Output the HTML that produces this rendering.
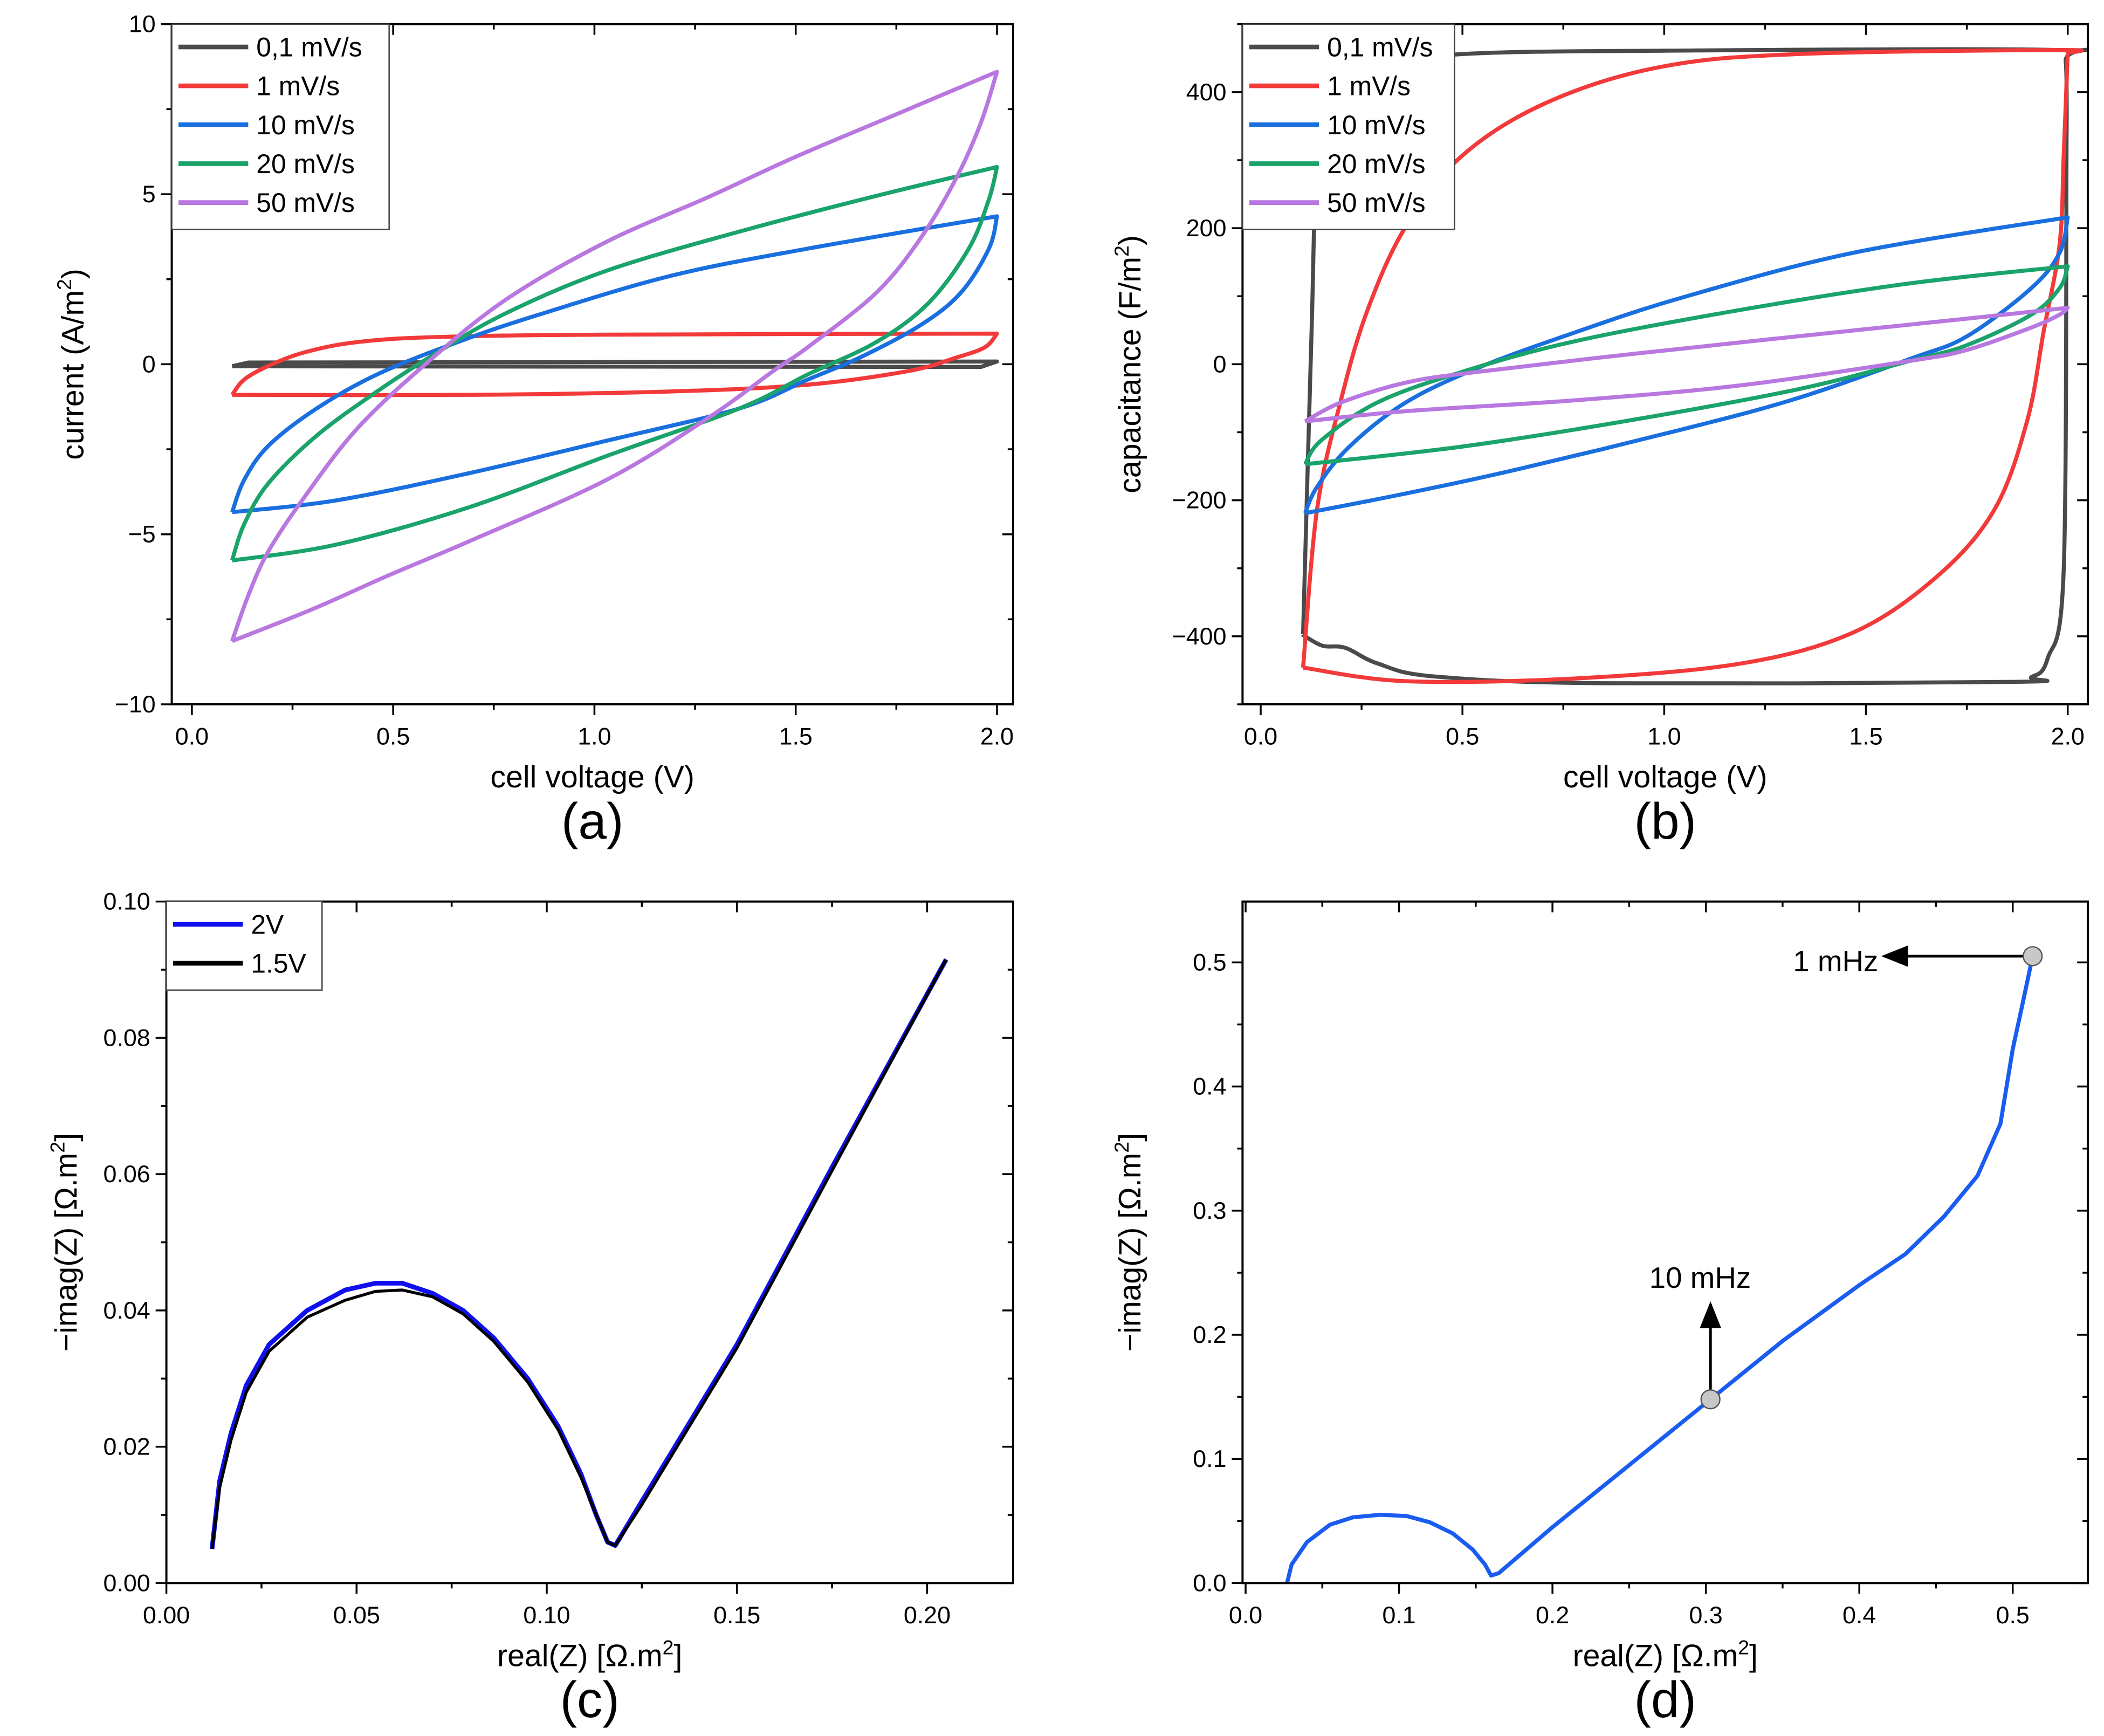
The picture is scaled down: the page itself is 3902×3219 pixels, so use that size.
<!DOCTYPE html>
<html><head><meta charset="utf-8"><style>
html,body{margin:0;padding:0;background:#fff;}
svg{display:block;font-family:"Liberation Sans",sans-serif;}
</style></head><body>
<svg id="fig" width="3902" height="3219" viewBox="0 0 1568 1294" preserveAspectRatio="none" xmlns="http://www.w3.org/2000/svg"></svg>
<script>
// ---- data ----
const cvSeriesNames = ["0,1 mV/s","1 mV/s","10 mV/s","20 mV/s","50 mV/s"];
const cvColors = ["#4a4a4a","#f23a3a","#1a6fdf","#1aa36b","#b878e0"];
const cvA_01 = [[0.1,-0.06],[0.14,0.05],[2.0,0.08],[1.96,-0.08],[0.1,-0.06]];
const cvA_1 = [[0.1,-0.9],[0.13,-0.45],[0.19,-0.05],[0.28,0.35],[0.41,0.65],[0.61,0.8],[1.03,0.87],[2.0,0.9],[1.97,0.5],[1.9,0.2],[1.78,-0.2],[1.53,-0.6],[1.19,-0.8],[0.69,-0.9],[0.1,-0.9]];
const cvA_10 = [[0.1,-4.35],[0.13,-3.4],[0.19,-2.4],[0.31,-1.3],[0.46,-0.3],[0.66,0.65],[0.86,1.45],[1.19,2.6],[1.53,3.4],[2.0,4.35],[1.98,3.4],[1.91,2.1],[1.81,1.15],[1.66,0.2],[1.53,-0.45],[1.36,-1.3],[1.03,-2.25],[0.69,-3.2],[0.36,-4.0],[0.1,-4.35]];
const cvA_20 = [[0.1,-5.77],[0.13,-4.7],[0.19,-3.5],[0.31,-2.1],[0.46,-0.8],[0.61,0.35],[0.78,1.5],[1.03,2.75],[1.36,3.9],[1.7,4.95],[2.0,5.8],[1.98,4.85],[1.93,3.4],[1.83,1.8],[1.7,0.65],[1.53,-0.3],[1.36,-1.3],[1.03,-2.7],[0.69,-4.2],[0.36,-5.3],[0.1,-5.77]];
const cvA_50 = [[0.1,-8.14],[0.14,-6.8],[0.19,-5.5],[0.28,-3.9],[0.41,-1.9],[0.58,0],[0.78,1.9],[1.03,3.6],[1.28,4.9],[1.5,6.1],[1.75,7.35],[2.0,8.6],[1.96,7.1],[1.9,5.5],[1.81,3.7],[1.7,2.1],[1.53,0.5],[1.45,-0.15],[1.28,-1.6],[1.03,-3.4],[0.69,-5.2],[0.49,-6.2],[0.3,-7.2],[0.1,-8.14]];
const capB_01 = [[0.105,-397],[0.126,47],[0.14,294],[0.18,388],[0.29,437],[0.5,456],[1.0,461],[1.97,462],[1.995,445],[1.997,307],[1.99,-303],[1.95,-433],[1.91,-460],[1.86,-467],[0.85,-469],[0.43,-459],[0.29,-440],[0.21,-417],[0.154,-414],[0.11,-400],[0.105,-397]];
const capB_1 = [[0.105,-446],[0.14,-212],[0.2,-50],[0.265,80],[0.36,203],[0.5,307],[0.71,385],[0.99,437],[1.33,456],[1.98,462],[2.0,458],[1.99,307],[1.98,177],[1.94,47],[1.9,-82],[1.82,-212],[1.68,-310],[1.47,-394],[1.19,-440],[0.78,-462],[0.36,-466],[0.105,-446]];
const capB_10 = [[0.11,-219],[0.14,-180],[0.22,-121],[0.36,-56],[0.54,-5],[0.78,47],[1.05,99],[1.47,164],[2.0,216],[1.98,164],[1.91,112],[1.75,41],[1.61,8],[1.33,-50],[1.05,-95],[0.64,-154],[0.36,-190],[0.11,-219]];
const capB_20 = [[0.11,-147],[0.15,-112],[0.29,-56],[0.5,-11],[0.78,34],[1.19,80],[1.61,119],[2.0,144],[1.98,112],[1.91,73],[1.75,28],[1.61,5],[1.33,-37],[0.92,-82],[0.5,-121],[0.11,-147]];
const capB_50 = [[0.11,-84],[0.2,-56],[0.36,-27],[0.54,-11],[0.92,15],[1.33,41],[1.75,67],[2.0,83],[1.98,73],[1.91,54],[1.75,21],[1.61,5],[1.19,-31],[0.78,-53],[0.36,-69],[0.11,-84]];
const eisC_2V = [[0.012,0.005],[0.014,0.015],[0.017,0.022],[0.021,0.029],[0.027,0.035],[0.037,0.040],[0.047,0.043],[0.055,0.044],[0.062,0.044],[0.07,0.0425],[0.078,0.04],[0.086,0.036],[0.095,0.03],[0.103,0.023],[0.109,0.016],[0.113,0.01],[0.116,0.006],[0.118,0.0055],[0.125,0.012],[0.15,0.035],[0.175,0.061],[0.205,0.0915]];
const eisC_15V = [[0.012,0.005],[0.014,0.014],[0.017,0.021],[0.021,0.028],[0.027,0.034],[0.037,0.039],[0.047,0.0415],[0.055,0.0428],[0.062,0.043],[0.07,0.042],[0.078,0.0395],[0.086,0.0355],[0.095,0.0295],[0.103,0.0225],[0.109,0.0155],[0.113,0.01],[0.116,0.006],[0.118,0.0055],[0.125,0.0115],[0.15,0.0345],[0.175,0.0605],[0.205,0.0915]];
const eisD = [[0.027,0],[0.03,0.015],[0.04,0.033],[0.055,0.047],[0.07,0.053],[0.088,0.055],[0.105,0.054],[0.12,0.049],[0.135,0.04],[0.148,0.027],[0.156,0.015],[0.16,0.006],[0.165,0.008],[0.2,0.045],[0.25,0.095],[0.3,0.145],[0.35,0.195],[0.4,0.24],[0.43,0.265],[0.455,0.295],[0.477,0.328],[0.492,0.37],[0.5,0.43],[0.507,0.47],[0.513,0.505]];
const eisDMarkers = [[0.303,0.148],[0.513,0.505]];
const ticksAx = ["0.0","0.5","1.0","1.5","2.0"];
const ticksAy = ["−10","−5","0","5","10"];
const ticksBy = ["−400","−200","0","200","400"];
const ticksCx = ["0.00","0.05","0.10","0.15","0.20"];
const ticksCy = ["0.00","0.02","0.04","0.06","0.08","0.10"];
const ticksDx = ["0.0","0.1","0.2","0.3","0.4","0.5"];
const ticksDy = ["0.0","0.1","0.2","0.3","0.4","0.5"];

const svg = document.getElementById('fig');
const NS = "http://www.w3.org/2000/svg";
function mk(tag, attrs, parent){const e=document.createElementNS(NS,tag);for(const k in attrs)e.setAttribute(k,attrs[k]);(parent||svg).appendChild(e);return e;}
function num(s){return parseFloat(s.replace('−','-'));}
function crPath(P){
  let d='M'+P[0][0].toFixed(2)+' '+P[0][1].toFixed(2);
  for(let i=0;i<P.length-1;i++){
    const p0=P[i-1]||P[i], p1=P[i], p2=P[i+1], p3=P[i+2]||P[i+1];
    const c1=[p1[0]+(p2[0]-p0[0])/6, p1[1]+(p2[1]-p0[1])/6];
    const c2=[p2[0]-(p3[0]-p1[0])/6, p2[1]-(p3[1]-p1[1])/6];
    d+=` C${c1[0].toFixed(2)} ${c1[1].toFixed(2)} ${c2[0].toFixed(2)} ${c2[1].toFixed(2)} ${p2[0].toFixed(2)} ${p2[1].toFixed(2)}`;
  }
  return d;
}
const defs = mk('defs',{});
let clipN=0;

function panel(p){
  const g = mk('g',{});
  
  
  const sx = v => p.L + (v - p.x0)/(p.x1 - p.x0)*(p.R - p.L);
  const sy = v => p.B - (v - p.y0)/(p.y1 - p.y0)*(p.B - p.T);
  const cid = 'clip'+(clipN++);
  const cp = mk('clipPath',{id:cid},defs);
  mk('rect',{x:p.L,y:p.T,width:p.R-p.L,height:p.B-p.T},cp);
  const tg = mk('g',{stroke:'#000','stroke-width':1.4},g);
  for(let v=p.x0m; v<=p.x1+1e-9; v+=p.xminor){
    const x=sx(v); if(x<p.L-0.5||x>p.R+0.5) continue;
    const major = Math.abs(((v-p.xmajor0)/p.xmajor) - Math.round((v-p.xmajor0)/p.xmajor))<1e-6;
    const len = major?8:4;
    mk('line',{x1:x,y1:p.B,x2:x,y2:p.B+len},tg);
    mk('line',{x1:x,y1:p.T,x2:x,y2:p.T+len},tg);
  }
  for(let v=p.y0m; v<=p.y1+1e-9; v+=p.yminor){
    const y=sy(v); if(y<p.T-0.5||y>p.B+0.5) continue;
    const major = Math.abs(((v-p.ymajor0)/p.ymajor) - Math.round((v-p.ymajor0)/p.ymajor))<1e-6;
    const len = major?8:4;
    mk('line',{x1:p.L,y1:y,x2:p.L-len,y2:y},tg);
    mk('line',{x1:p.R,y1:y,x2:p.R-len,y2:y},tg);
  }
  p.xt.forEach(t=>{const e=mk('text',{x:sx(num(t)),y:p.B+30,'text-anchor':'middle','font-size':18},g);e.textContent=t;
    
    });
  p.yt.forEach(t=>{const e=mk('text',{x:p.L-12,y:sy(num(t))+6,'text-anchor':'end','font-size':18},g);e.textContent=t;
    
    });
  const sg = mk('g',{'clip-path':`url(#${cid})`},g);
  p.series.forEach((s,i)=>{
    const px = s.pts.map(q=>[sx(q[0]),sy(q[1])]);
    let d;
    if(p.smooth && !s.sharp){
      let im=0; s.pts.forEach((q,j)=>{if(q[0]>s.pts[im][0]+1e-9) im=j;});
      d = crPath(px.slice(0,im+1)) + ' ' + crPath(px.slice(im)).replace(/^M/,'L');
    } else d = px.map((q,j)=>(j?'L':'M')+q[0].toFixed(2)+' '+q[1].toFixed(2)).join(' ');
    const e = mk('path',{d:d,fill:'none',stroke:s.color,'stroke-width':s.w||3,'stroke-linejoin':'round'},sg);
    
    
  });
  mk('rect',{x:p.L,y:p.T,width:p.R-p.L,height:p.B-p.T,fill:'none',stroke:'#000','stroke-width':1.6},g);
  const xt = mk('text',{x:(p.L+p.R)/2,y:p.B+62,'text-anchor':'middle','font-size':23},g);
  xt.innerHTML = p.xtitle;
  
  
  const cy=(p.T+p.B)/2;
  const yt = mk('text',{x:p.ytx,y:cy,'text-anchor':'middle','font-size':23,transform:`rotate(-90 ${p.ytx} ${cy})`},g);
  yt.innerHTML = p.ytitle;
  
  
  const lb = mk('text',{x:(p.L+p.R)/2,y:p.B+100,'text-anchor':'middle','font-size':38},g);
  lb.textContent = p.label;
  
  
  if(p.legend){
    const lg = mk('g',{},g);
    
    
    const lgTop = p.T, h = p.legend.length*29+8;
    mk('rect',{x:p.L,y:lgTop,width:p.legendW,height:h,fill:'#fff',stroke:'#444','stroke-width':1},lg);
    p.legend.forEach((it,i)=>{
      const y = lgTop+17+i*29;
      const le = mk('g',{},lg);
      
      
      mk('line',{x1:p.L+5,y1:y,x2:p.L+57,y2:y,stroke:it.color,'stroke-width':3.5},le);
      const t = mk('text',{x:p.L+63,y:y+7,'font-size':20},le); t.textContent = it.name;
    });
  }
  return {g,sx,sy};
}

const unitSup = '<tspan>(A/m</tspan><tspan dy="-9" font-size="15">2</tspan><tspan dy="9">)</tspan>';
const legA = cvSeriesNames.map((n,i)=>({name:n,color:cvColors[i]}));
panel({name:'panel-a-cv',L:128,R:755,T:18,B:525,x0:-0.05,x1:2.04,y0:-10,y1:10,smooth:true,
  x0m:0,xminor:0.25,xmajor:0.5,xmajor0:0,y0m:-10,yminor:2.5,ymajor:5,ymajor0:0,
  xt:ticksAx,yt:ticksAy,xtitle:'cell voltage (V)',ytitle:'current '+unitSup,ytx:62,label:'(a)',
  legend:legA,legendW:162,
  series:[{id:'cv-0.1mVs',pts:cvA_01,color:cvColors[0],sharp:true},{id:'cv-1mVs',pts:cvA_1,color:cvColors[1]},{id:'cv-10mVs',pts:cvA_10,color:cvColors[2]},{id:'cv-20mVs',pts:cvA_20,color:cvColors[3]},{id:'cv-50mVs',pts:cvA_50,color:cvColors[4]}]});
panel({name:'panel-b-capacitance',L:926,R:1556,T:18,B:525,x0:-0.045,x1:2.05,y0:-500,y1:500,smooth:true,
  x0m:0,xminor:0.25,xmajor:0.5,xmajor0:0,y0m:-500,yminor:100,ymajor:200,ymajor0:0,
  xt:ticksAx,yt:ticksBy,xtitle:'cell voltage (V)',ytitle:'capacitance <tspan>(F/m</tspan><tspan dy="-9" font-size="15">2</tspan><tspan dy="9">)</tspan>',ytx:850,label:'(b)',
  legend:legA,legendW:158,
  series:[{id:'cap-0.1mVs',pts:capB_01,color:cvColors[0]},{id:'cap-1mVs',pts:capB_1,color:cvColors[1]},{id:'cap-10mVs',pts:capB_10,color:cvColors[2]},{id:'cap-20mVs',pts:capB_20,color:cvColors[3]},{id:'cap-50mVs',pts:capB_50,color:cvColors[4]}]});
const zT = 'real(Z) [Ω.m<tspan dy="-9" font-size="15">2</tspan><tspan dy="9">]</tspan>';
const zY = '−imag(Z) [Ω.m<tspan dy="-9" font-size="15">2</tspan><tspan dy="9">]</tspan>';
panel({name:'panel-c-nyquist',L:124,R:755,T:672,B:1180,x0:0,x1:0.2226,y0:0,y1:0.1,
  x0m:0,xminor:0.025,xmajor:0.05,xmajor0:0,y0m:0,yminor:0.01,ymajor:0.02,ymajor0:0,
  xt:ticksCx,yt:ticksCy,xtitle:zT,ytitle:zY,ytx:57,label:'(c)',
  legend:[{name:'2V',color:'#1010ee'},{name:'1.5V',color:'#000'}],legendW:116,
  series:[{id:'eis-2V',pts:eisC_2V,color:'#1010ee',w:3.5},{id:'eis-1.5V',pts:eisC_15V,color:'#000',w:2.2}]});
const pd = panel({name:'panel-d-nyquist',L:926,R:1556,T:672,B:1180,x0:-0.002,x1:0.549,y0:0,y1:0.549,
  x0m:0,xminor:0.05,xmajor:0.1,xmajor0:0,y0m:0,yminor:0.05,ymajor:0.1,ymajor0:0,
  xt:ticksDx,yt:ticksDy,xtitle:zT,ytitle:zY,ytx:850,label:'(d)',
  series:[{id:'eis-curve',pts:eisD,color:'#1a5cf0',w:3}]});
defs.insertAdjacentHTML('beforeend','<marker id="ah" markerWidth="10" markerHeight="8" refX="9" refY="4" orient="auto"><path d="M0,0 L10,4 L0,8 z" fill="#000"/></marker>');
const m1=[pd.sx(eisDMarkers[0][0]),pd.sy(eisDMarkers[0][1])];
const m2=[pd.sx(eisDMarkers[1][0]),pd.sy(eisDMarkers[1][1])];
const a1=mk('line',{x1:m1[0],y1:m1[1],x2:m1[0],y2:972,stroke:'#000','stroke-width':2,'marker-end':'url(#ah)'},pd.g);


const a2=mk('line',{x1:m2[0],y1:m2[1],x2:1404,y2:m2[1],stroke:'#000','stroke-width':2,'marker-end':'url(#ah)'},pd.g);


eisDMarkers.forEach(m=>{const c=mk('ellipse',{cx:pd.sx(m[0]),cy:pd.sy(m[1]),rx:7,ry:7,fill:'#c8c8c8',stroke:'#555','stroke-width':1},pd.g);
  
  });
const t1=mk('text',{x:1267,y:960,'text-anchor':'middle','font-size':22},pd.g);t1.textContent='10 mHz';


const t2=mk('text',{x:1368,y:724,'text-anchor':'middle','font-size':22},pd.g);t2.textContent='1 mHz';


</script>
</body></html>
